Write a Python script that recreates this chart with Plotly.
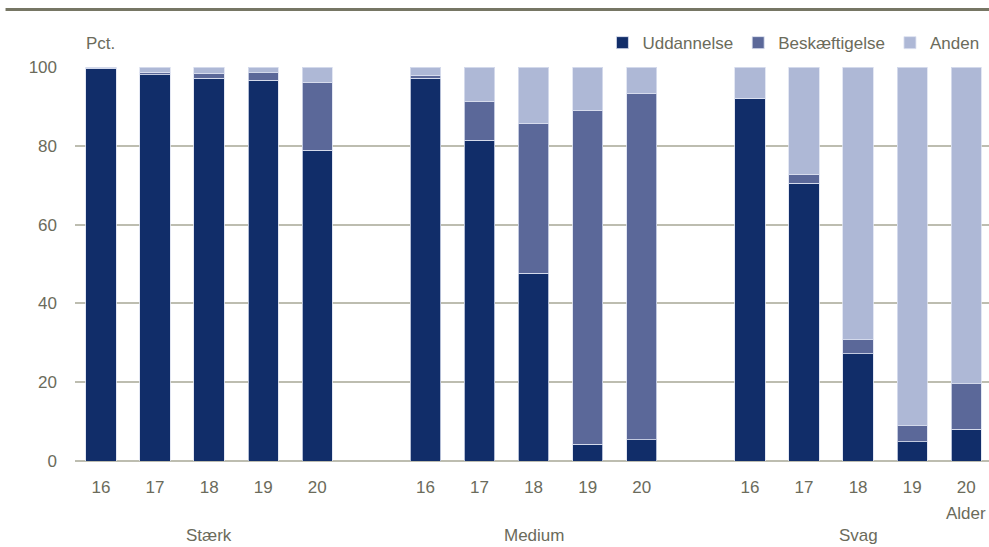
import plotly.graph_objects as go

groups = ["Stærk", "Medium", "Svag"]
ages = ["16", "17", "18", "19", "20"]

uddannelse = [99.5, 98.0, 97.2, 96.7, 78.9,
              97.1, 81.4, 47.6, 4.3, 5.4,
              92.1, 70.5, 27.2, 4.9, 8.1]
beskaeftigelse = [0.0, 0.7, 1.2, 1.8, 17.2,
                  0.8, 9.9, 38.1, 84.7, 88.0,
                  0.0, 2.3, 3.6, 4.0, 11.5]
anden = [round(100 - u - b, 1) for u, b in zip(uddannelse, beskaeftigelse)]

# positions: 5 bars per group, one empty slot between groups
positions = []
for g in range(len(groups)):
    for a in range(len(ages)):
        positions.append(g * 6 + a)
tick_text = ages * len(groups)

FONT = "Liberation Sans, Arial"
FS = 17
TXT = "#6b6b5b"
GRID = "#bdbdb0"

colors = {"Uddannelse": "#112d69", "Beskæftigelse": "#5b6899", "Anden": "#aeb8d6"}
fig = go.Figure()
for name, vals in [("Uddannelse", uddannelse), ("Beskæftigelse", beskaeftigelse), ("Anden", anden)]:
    fig.add_trace(go.Bar(
        x=positions, y=vals, name=name, width=0.56,
        marker=dict(color=colors[name], line=dict(color="rgba(220,225,240,0.8)", width=1)),
    ))

fig.update_layout(
    barmode="stack",
    width=989, height=547,
    margin=dict(l=75, r=0, t=67, b=86),
    paper_bgcolor="white", plot_bgcolor="white",
    font=dict(family=FONT, size=FS, color=TXT),
    showlegend=True,
    legend=dict(orientation="h", x=0.995, xanchor="right", y=1.015, yanchor="bottom",
                font=dict(size=FS, color=TXT), traceorder="normal",
                itemwidth=30, bgcolor="rgba(0,0,0,0)"),
    xaxis=dict(range=[-0.48, 16.42], tickmode="array", tickvals=positions, ticktext=tick_text,
               showgrid=False, zeroline=False, showline=False, ticks="", ticklabelstandoff=14,
               fixedrange=True),
    yaxis=dict(range=[0, 100], tickvals=[0, 20, 40, 60, 80, 100], showgrid=True,
               gridcolor=GRID, gridwidth=1.5, zeroline=True, zerolinecolor=GRID, zerolinewidth=2,
               showline=False, ticks="", ticklabelstandoff=17, fixedrange=True),
    shapes=[dict(type="line", xref="paper", yref="paper", x0=-0.076, x1=1.0, y0=1.146, y1=1.146,
                 line=dict(color="#767664", width=3))],
)

for i, g in enumerate(groups):
    fig.add_annotation(x=i * 6 + 2, y=-0.19, xref="x", yref="paper", text=g, showarrow=False,
                       font=dict(size=FS, color=TXT), yanchor="middle")
fig.add_annotation(x=16, y=-0.132, xref="x", yref="paper", text="Alder", showarrow=False,
                   font=dict(size=FS, color=TXT), xanchor="center", yanchor="middle")
fig.add_annotation(x=0.0, y=1.06, xref="x", yref="paper", text="Pct.", showarrow=False,
                   font=dict(size=FS, color=TXT), xanchor="center", yanchor="middle")

fig.write_html("out.html", post_script="document.body.style.margin='0';",
               config={"displayModeBar": False})
